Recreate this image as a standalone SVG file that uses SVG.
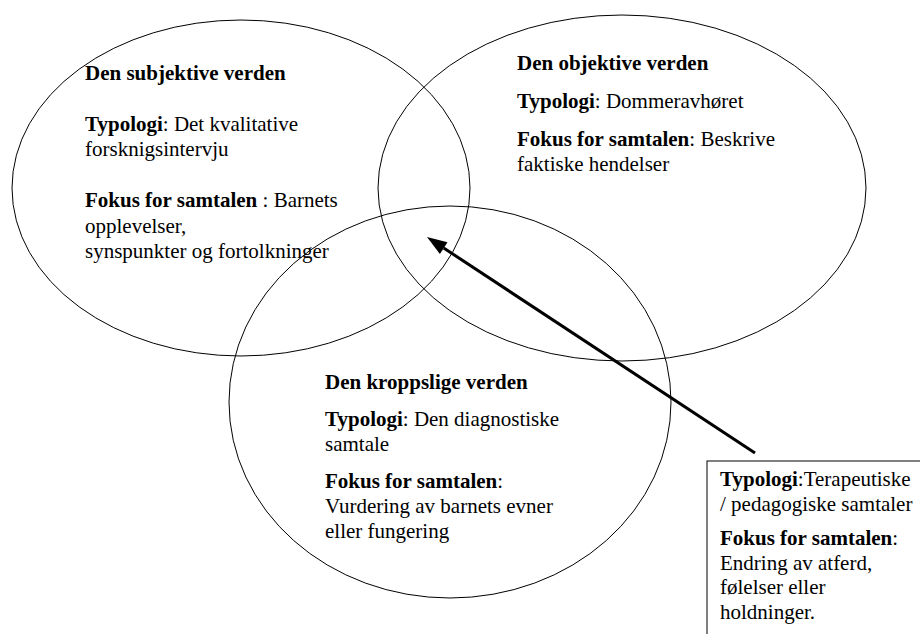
<svg xmlns="http://www.w3.org/2000/svg" width="920" height="634" viewBox="0 0 920 634">
<style>
.bg{fill:#fff}
.ell{fill:none;stroke:#000;stroke-width:1}
.box{fill:#fff;stroke:#000;stroke-width:1}
text{font-family:"Liberation Serif","Times New Roman",serif;font-size:21px;fill:#000}
.b{font-weight:bold}
.arrow{stroke:#000;stroke-width:3;fill:none}
.head{fill:#000;stroke:none}
</style>
<rect class="bg" x="0" y="0" width="920" height="634"/>
<g id="subjektiv">
<ellipse class="ell" cx="241" cy="188" rx="229" ry="168"/>
<text x="85" y="80" class="b">Den subjektive verden</text>
<text x="85" y="131"><tspan class="b">Typologi</tspan>: Det kvalitative</text>
<text x="85" y="156">forsknigsintervju</text>
<text x="85" y="207"><tspan class="b">Fokus for samtalen</tspan> : Barnets</text>
<text x="85" y="233">opplevelser,</text>
<text x="85" y="258">synspunkter og fortolkninger</text>
</g>
<g id="objektiv">
<ellipse class="ell" cx="622" cy="188" rx="244" ry="173"/>
<text x="517" y="70" class="b">Den objektive verden</text>
<text x="517" y="108"><tspan class="b">Typologi</tspan>: Dommeravhøret</text>
<text x="517" y="146"><tspan class="b">Fokus for samtalen</tspan>: Beskrive</text>
<text x="517" y="171">faktiske hendelser</text>
</g>
<g id="kroppslig">
<ellipse class="ell" cx="450" cy="402" rx="221" ry="196"/>
<text x="325" y="389" class="b">Den kroppslige verden</text>
<text x="325" y="426"><tspan class="b">Typologi</tspan>: Den diagnostiske</text>
<text x="325" y="451">samtale</text>
<text x="325" y="488"><tspan class="b">Fokus for samtalen</tspan>:</text>
<text x="325" y="513">Vurdering av barnets evner</text>
<text x="325" y="538">eller fungering</text>
</g>
<g id="terapeutisk">
<rect class="box" x="707" y="461" width="230" height="200"/>
<text x="720" y="486"><tspan class="b">Typologi</tspan>:Terapeutiske</text>
<text x="720" y="511">/ pedagogiske samtaler</text>
<text x="720" y="545"><tspan class="b">Fokus for samtalen</tspan>:</text>
<text x="720" y="570">Endring av atferd,</text>
<text x="720" y="594">følelser eller</text>
<text x="720" y="619">holdninger.</text>
</g>
<g id="connectors">
<line class="arrow" x1="755" y1="453" x2="443.7" y2="248"/>
<polygon class="head" points="427,237 439.9,253.9 447.5,242.2"/>
</g>
</svg>
